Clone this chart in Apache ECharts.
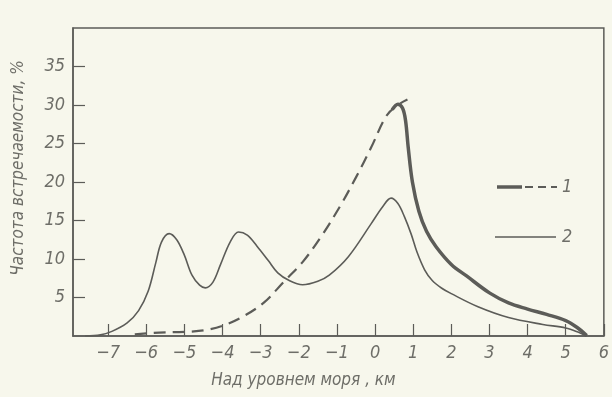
<!DOCTYPE html>
<html><head><meta charset="utf-8">
<script src="https://cdn.jsdelivr.net/npm/echarts@6/dist/echarts.min.js"></script>
<style>html,body{margin:0;padding:0;background:#f7f7ec;}#c{width:612px;height:397px;}</style>
</head><body><div id="c"></div>
<script>
const xTicks = [-7,-6,-5,-4,-3,-2,-1,0,1,2,3,4,5,6];
const xTickLabels = ['−7','−6','−5','−4','−3','−2','−1','0','1','2','3','4','5','6'];
const yTicks = [5,10,15,20,25,30,35];
const yTickLabels = ['5','10','15','20','25','30','35'];

// Curve 1, dashed part
const dashX = [-6.3,-5.8,-5.3,-4.9,-4.4,-3.9,-3.4,-2.9,-2.4,-1.9,-1.4,-0.9,-0.5,-0.1,0.3,0.6,0.85];
const dashY = [0.2,0.4,0.5,0.55,0.8,1.5,2.7,4.4,7.0,9.6,13.0,17.0,20.6,24.5,28.6,30.0,30.7];
// Curve 1, thick solid part
const thickX = [0.45,0.6,0.72,0.8,0.87,0.98,1.15,1.35,1.6,2.0,2.4,3.0,3.5,4.0,4.5,5.0,5.3,5.55];
const thickY = [29.4,30.1,29.6,28.0,24.5,20.0,16.2,13.6,11.6,9.3,7.8,5.6,4.3,3.5,2.8,2.0,1.1,0.05];
// Curve 2
const thinX = [-7.6,-7.2,-6.9,-6.5,-6.2,-5.95,-5.75,-5.6,-5.4,-5.2,-5.0,-4.8,-4.6,-4.45,-4.25,-4.05,-3.8,-3.58,-3.35,-3.1,-2.8,-2.55,-2.25,-1.9,-1.5,-1.2,-0.7,-0.1,0.2,0.42,0.6,0.77,0.95,1.1,1.3,1.5,1.75,2.0,2.7,3.5,4.4,5.0,5.35,5.55];
const thinY = [0,0.15,0.6,1.7,3.3,5.8,9.5,12.2,13.3,12.5,10.5,7.9,6.6,6.25,7.0,9.3,12.2,13.5,13.1,11.7,9.8,8.2,7.2,6.65,7.1,7.9,10.3,14.6,16.8,17.9,17.2,15.5,13.2,10.9,8.6,7.2,6.2,5.5,3.8,2.4,1.5,1.05,0.45,0];

const zip = (xs, ys) => xs.map((x, i) => [x, ys[i]]);

const ink = '#5c5c58';
const txt = '#6e6e68';
const font = '"DejaVu Sans Condensed", "Liberation Sans Narrow", "DejaVu Sans", sans-serif';

const chart = echarts.init(document.getElementById('c'), null, {renderer: 'canvas'});
chart.setOption({
  backgroundColor: '#f7f7ec',
  animation: false,
  grid: {left: 73, right: 4, top: 28, bottom: 61, show: true, borderColor: ink, borderWidth: 1.5, backgroundColor: 'transparent'},
  xAxis: {
    type: 'value', min: -7.92, max: 6,
    name: 'Над уровнем моря , км', nameLocation: 'middle', nameGap: 36,
    nameTextStyle: {color: txt, fontSize: 17, fontStyle: 'italic', fontFamily: font, padding: [0, 70, 0, 0]},
    axisLine: {show: true, onZero: false, lineStyle: {color: ink, width: 1.5}},
    axisTick: {show: true, inside: true, length: 12, customValues: xTicks, lineStyle: {color: ink, width: 1.2}},
    axisLabel: {customValues: xTicks, formatter: v => xTickLabels[xTicks.indexOf(Math.round(v))] || '', color: txt, fontSize: 18, fontStyle: 'italic', fontFamily: font, margin: 8},
    splitLine: {show: false}
  },
  yAxis: {
    type: 'value', min: 0, max: 40,
    name: 'Частота встречаемости, %', nameLocation: 'middle', nameGap: 46,
    nameTextStyle: {color: txt, fontSize: 17, fontStyle: 'italic', fontFamily: font, padding: [0, 0, 0, 28]},
    axisLine: {show: true, onZero: false, lineStyle: {color: ink, width: 1.5}},
    axisTick: {show: true, inside: true, length: 12, customValues: yTicks, lineStyle: {color: ink, width: 1.2}},
    axisLabel: {customValues: yTicks, formatter: v => yTickLabels[yTicks.indexOf(Math.round(v))] || '', color: txt, fontSize: 18, fontStyle: 'italic', fontFamily: font, margin: 8},
    splitLine: {show: false}
  },
  series: [
    {name: '1', type: 'line', data: zip(dashX, dashY), smooth: 0.35, showSymbol: false, lineStyle: {color: ink, width: 2.2, type: [12, 7]}},
    {name: '1', type: 'line', data: zip(thickX, thickY), smooth: 0.35, showSymbol: false, lineStyle: {color: ink, width: 3.5}},
    {name: '2', type: 'line', data: zip(thinX, thinY), smooth: 0.35, showSymbol: false, lineStyle: {color: ink, width: 1.6}}
  ],
  graphic: [
    {type: 'line', shape: {x1: 497, y1: 187, x2: 522, y2: 187}, style: {stroke: ink, lineWidth: 3.5}},
    {type: 'line', shape: {x1: 525, y1: 187, x2: 557, y2: 187}, style: {stroke: ink, lineWidth: 2, lineDash: [8, 5]}},
    {type: 'text', x: 562, y: 187, style: {text: '1', fill: txt, font: 'italic 18px ' + font, verticalAlign: 'middle'}},
    {type: 'line', shape: {x1: 495, y1: 237, x2: 556, y2: 237}, style: {stroke: ink, lineWidth: 1.6}},
    {type: 'text', x: 562, y: 237, style: {text: '2', fill: txt, font: 'italic 18px ' + font, verticalAlign: 'middle'}}
  ]
});
</script>
</body></html>
